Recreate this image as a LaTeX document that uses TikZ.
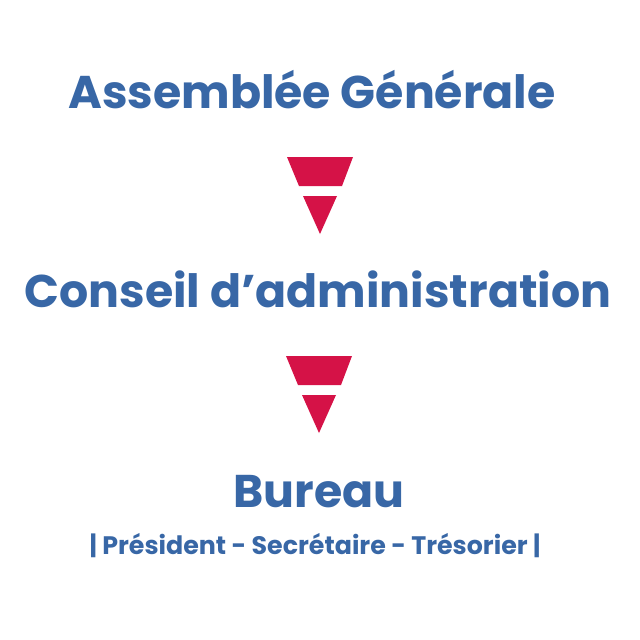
\documentclass[tikz,border=0pt]{standalone}
\usepackage{fontspec}
\setmainfont{Poppins}
\definecolor{orgblue}{HTML}{3867A6}
\definecolor{orgred}{HTML}{D51247}
\tikzset{
    title/.style={text=orgblue, font=\fontsize{32.6}{38}\selectfont\bfseries, inner sep=0pt},
    subtitle/.style={text=orgblue, font=\fontsize{18}{21}\selectfont\bfseries, inner sep=0pt},
    pointer/.style={fill=orgred, draw=none}
}
\begin{document}
\begin{tikzpicture}[x=0.025cm, y=-0.025cm]
        \useasboundingbox (0, 0) rectangle (640, 640);

        \node[title, anchor=base] (ag) at (312, 108) {Assemblée Générale};

        \fill[pointer] (287, 157) -- (353, 157) -- (342, 186) -- (299, 186) -- cycle;
        \fill[pointer] (303, 196) -- (337, 196) -- (320, 234) -- cycle;

        \node[title, anchor=base] (ca) at (318, 307) {Conseil d’administration};

        \fill[pointer] (286, 356) -- (352, 356) -- (341, 385) -- (298, 385) -- cycle;
        \fill[pointer] (302, 395) -- (336, 395) -- (319, 433) -- cycle;

        \node[title, anchor=base] (bureau) at (319, 507) {Bureau};
        \node[subtitle, anchor=base] (roles) at (315, 554) {| Président - Secrétaire - Trésorier |};
\end{tikzpicture}
\end{document}
